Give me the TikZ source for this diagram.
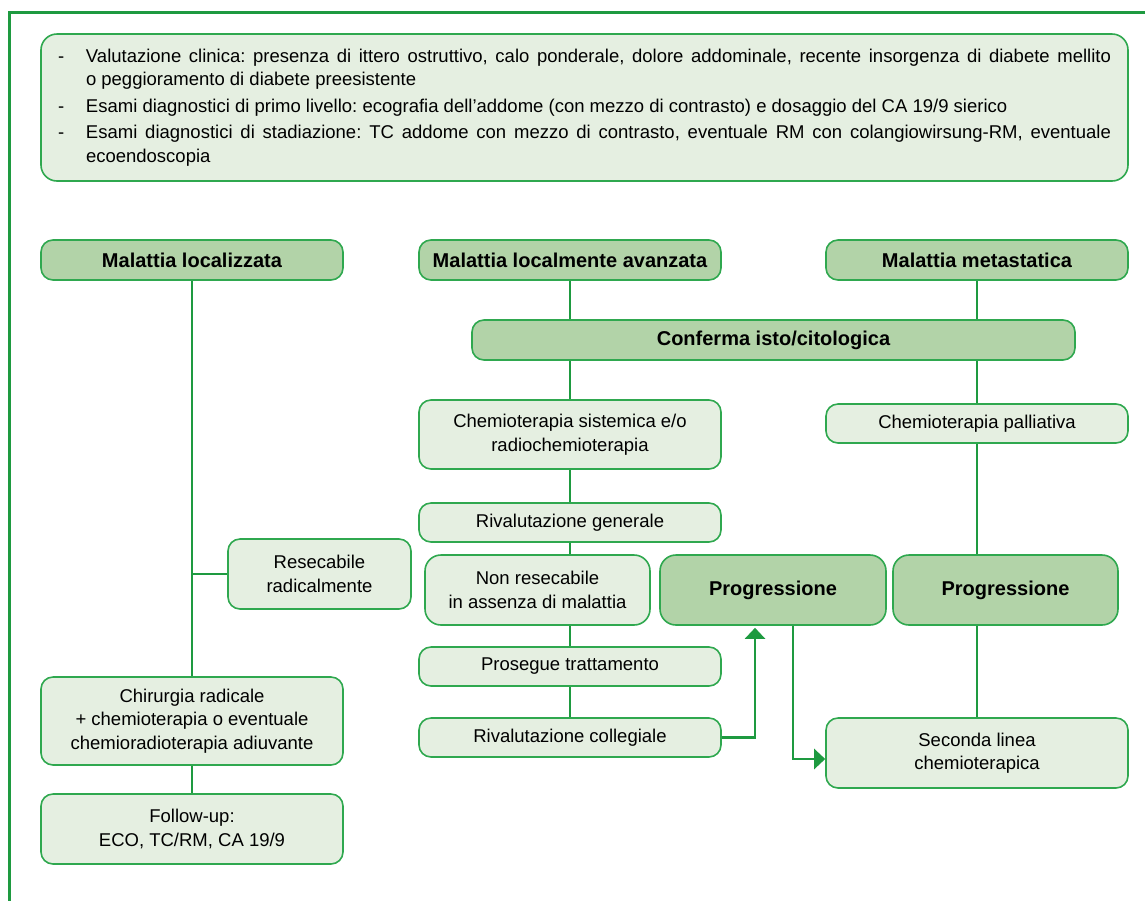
\documentclass[tikz,border=0pt]{standalone}
\usepackage{fontspec}
\setmainfont{Liberation Sans}
\usepackage{xcolor}
\usetikzlibrary{arrows.meta,positioning,backgrounds}
\definecolor{frame}{HTML}{1E9A40}
\definecolor{edge}{HTML}{2FA84F}
\definecolor{pale}{HTML}{E5EFE1}
\definecolor{leaf}{HTML}{B2D3A8}
\frenchspacing

\begin{document}
\begin{tikzpicture}[x=0.5pt, y=-0.5pt,
  st/.style={draw=edge, line width=0.8pt, rounded corners=6pt, fill=pale, align=center, inner sep=0pt, minimum width=151pt, minimum height=19.5pt, font=\fontsize{9.25}{11.75}\selectfont},
  hd/.style={st, fill=leaf, font=\fontsize{10}{12}\selectfont\bfseries, minimum height=20pt},
  ln/.style={draw=frame, line width=1.25pt},
  arr/.style={ln, -{Triangle[length=5.5pt, width=10pt]}}]
  \useasboundingbox (0,0) rectangle (1145,901);
  \draw[frame, line width=1.5pt] (1145,12) -- (9,12) -- (9,901);
  % top box
  \node[st, rounded corners=8pt, text width=526.5pt, inner xsep=8.5pt, minimum height=73.5pt, align=justify] (info) at (584.5,107.5)
    {\setlength{\parskip}{1.5pt}%
     \noindent\hangindent=14pt\hangafter=1\makebox[14pt][l]{-}Valutazione clinica: presenza di ittero ostruttivo, calo ponderale, dolore addominale, recente insorgenza di diabete mellito\linebreak o peggioramento di diabete preesistente\par
     \noindent\hangindent=14pt\hangafter=1\makebox[14pt][l]{-}Esami diagnostici di primo livello: ecografia dell’addome (con mezzo di contrasto) e dosaggio del CA 19/9 sierico\par
     \noindent\hangindent=14pt\hangafter=1\makebox[14pt][l]{-}Esami diagnostici di stadiazione: TC addome con mezzo di contrasto, eventuale RM con colangiowirsung-RM, eventuale\linebreak ecoendoscopia\par};
  % headers
  \node[hd] (loc) at (192,260) {Malattia localizzata};
  \node[hd] (lav) at (570,260) {Malattia localmente avanzata};
  \node[hd] (met) at (977,260) {Malattia metastatica};
  \node[hd, minimum width=301.5pt] (conf) at (773.5,340) {Conferma isto/citologica};
  % middle column
  \node[st, minimum height=34.5pt] (chemsis) at (570,434.5) {Chemioterapia sistemica e/o\\radiochemioterapia};
  \node[st] (rivgen) at (570,522.5) {Rivalutazione generale};
  \node[st, minimum width=112.5pt, minimum height=35pt, rounded corners=8pt] (nonres) at (537.5,590) {Non resecabile\\in assenza di malattia};
  \node[st] (prose) at (570,666.5) {Prosegue trattamento};
  \node[st] (rivcol) at (570,737.5) {Rivalutazione collegiale};
  \node[hd, minimum width=113pt, minimum height=35pt, rounded corners=8pt] (prog1) at (773,590) {Progressione};
  % right column
  \node[st] (pall) at (977,423.5) {Chemioterapia palliativa};
  \node[hd, minimum width=112.5pt, minimum height=35pt, rounded corners=8pt] (prog2) at (1005.5,590) {Progressione};
  \node[st, minimum height=35pt] (sec) at (977,753) {Seconda linea\\chemioterapica};
  % left column
  \node[st, minimum width=91.5pt, minimum height=35pt] (resec) at (319.5,574) {Resecabile\\radicalmente};
  \node[st, minimum height=44pt] (chir) at (192,721) {Chirurgia radicale\\+ chemioterapia o eventuale\\chemioradioterapia adiuvante};
  \node[st, minimum height=35pt] (fu) at (192,829) {Follow-up:\\ECO, TC/RM, CA 19/9};
  \begin{scope}[on background layer]
    \draw[ln] (loc) -- (chir);
    \draw[ln] (resec.west) -- (resec.west -| loc);
    \draw[ln] (chir) -- (fu);
    \draw[ln] (lav) -- (lav |- conf.north);
    \draw[ln] (chemsis.north |- conf.south) -- (chemsis);
    \draw[ln] (chemsis) -- (rivgen);
    \draw[ln] (rivgen) -- (prose);
    \draw[ln] (prose) -- (rivcol);
    \draw[ln] (met) -- (met |- conf.north);
    \draw[ln] (pall.north |- conf.south) -- (pall);
    \draw[ln] (pall) -- (pall |- prog2.north);
    \draw[ln] (prog2.south -| pall) -- (sec);
  \end{scope}
  \draw[arr] (rivcol.east) -| ([xshift=-9pt, yshift=-1pt]prog1.south);
  \draw[arr] ([xshift=10pt]prog1.south) |- ([yshift=-3pt]sec.west);
\end{tikzpicture}
\end{document}
